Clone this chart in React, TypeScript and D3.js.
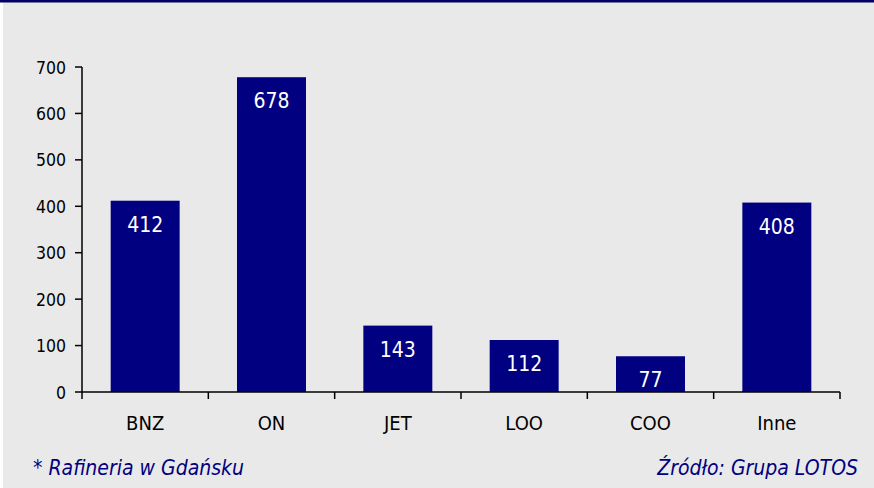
import React, { useEffect } from "react";
import * as d3 from "d3";

const categories = ["BNZ", "ON", "JET", "LOO", "COO", "Inne"];
const values = [412, 678, 143, 112, 77, 408];
const yTicks = [0, 100, 200, 300, 400, 500, 600, 700];
const footLeft = "* Rafineria w Gdańsku";
const footRight = "Źródło: Grupa LOTOS";

const W = 874;
const H = 488;
const NAVY = "#000080";
const FONT = "'DejaVu Sans Condensed', 'DejaVu Sans', sans-serif";

export default function App() {
  useEffect(() => {
    document.body.style.margin = "0";
  }, []);

  const x0 = 82;
  const x1 = 840;
  const y0 = 392;
  const y1 = 67;

  const x = d3.scaleBand<string>().domain(categories).range([x0, x1]).paddingInner(0).paddingOuter(0);
  const y = d3.scaleLinear().domain([0, 700]).range([y0, y1]);
  const step = x.step();
  const barW = step * 0.546;

  return (
    <svg width={W} height={H} style={{ display: "block" }}>
      <rect x={0} y={0} width={W} height={H} fill="#ffffff" />
      <rect x={3} y={0} width={W - 3} height={H} fill="#e9e9e9" />
      <rect x={0} y={0} width={W} height={2.5} fill="#000066" />

      {categories.map((c, i) => {
        const cx = (x(c) as number) + step / 2;
        const top = y(values[i]);
        return (
          <g key={c}>
            <rect x={cx - barW / 2} y={top} width={barW} height={y0 - top} fill={NAVY} />
            <text
              x={cx}
              y={top + 31}
              textAnchor="middle"
              fill="#ffffff"
              fontFamily={FONT}
              fontSize={21}
            >
              {values[i]}
            </text>
            <text
              x={cx}
              y={430}
              textAnchor="middle"
              fill="#000000"
              fontFamily={FONT}
              fontSize={20}
            >
              {c}
            </text>
          </g>
        );
      })}

      {/* y axis */}
      <line x1={x0} x2={x0} y1={y1} y2={y0} stroke="#000" strokeWidth={1.5} />
      {yTicks.map((t) => (
        <g key={t}>
          <line x1={x0 - 7} x2={x0} y1={y(t)} y2={y(t)} stroke="#000" strokeWidth={1.5} />
          <text
            x={x0 - 16}
            y={y(t) + 6.5}
            textAnchor="end"
            fill="#000"
            fontFamily={FONT}
            fontSize={17.5}
          >
            {t}
          </text>
        </g>
      ))}

      {/* x axis */}
      <line x1={x0} x2={x1} y1={y0} y2={y0} stroke="#000" strokeWidth={1.5} />
      {categories.concat(["end"]).map((c, i) => {
        const px = x0 + i * step;
        return <line key={"t" + i} x1={px} x2={px} y1={y0} y2={y0 + 7} stroke="#000" strokeWidth={1.5} />;
      })}

      <text x={33} y={475} fill={NAVY} fontFamily={FONT} fontStyle="italic" fontSize={21}>
        {footLeft}
      </text>
      <text x={858} y={475} textAnchor="end" fill={NAVY} fontFamily={FONT} fontStyle="italic" fontSize={21}>
        {footRight}
      </text>
    </svg>
  );
}
